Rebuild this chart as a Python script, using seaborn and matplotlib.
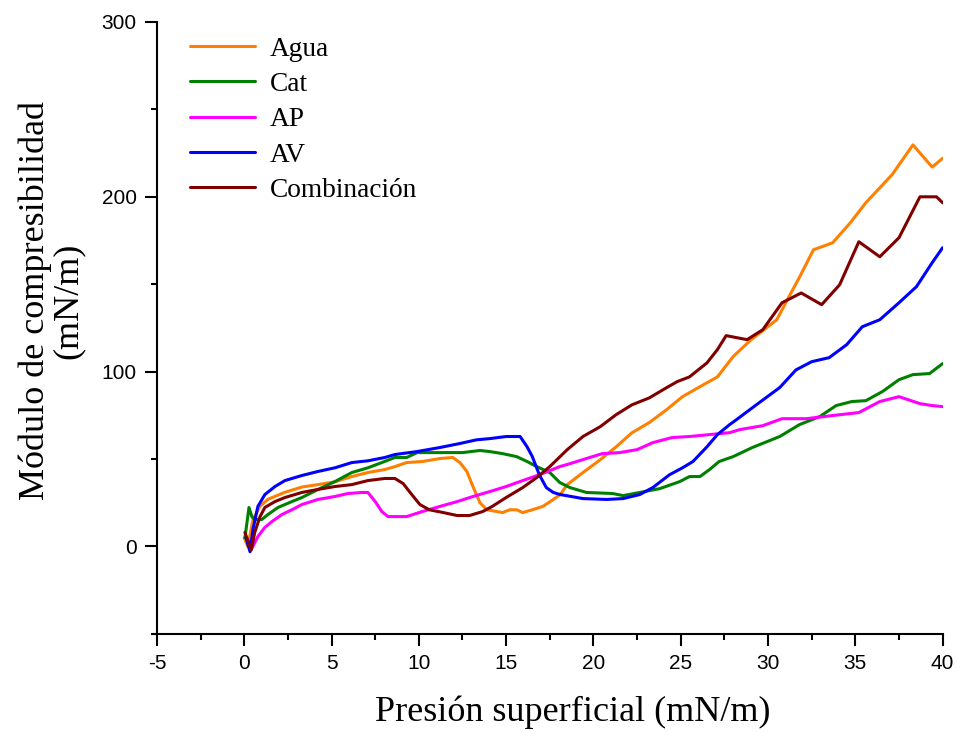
import numpy as np
import pandas as pd
import matplotlib
matplotlib.use("Agg")
import matplotlib.pyplot as plt
import seaborn as sns
from matplotlib.ticker import MultipleLocator

# Presion superficial (mN/m) vs modulo de compresibilidad (mN/m)
agua_x = [0.0, 0.2, 0.5, 0.9, 1.36, 2.33, 3.3, 4.22, 5.19, 6.16, 7.08, 8.05, 8.63, 9.3, 10.2,
          11.2, 11.95, 12.35, 12.75, 13.1, 13.5, 13.9, 14.47, 14.8, 15.2, 15.6, 15.95, 16.5,
          17.1, 17.7, 18.1, 18.5, 19.4, 20.4, 21.3, 22.2, 23.2, 24.2, 25.1, 26.1, 27.1, 28.0,
          29.0, 29.9, 30.5, 31.2, 31.8, 32.6, 33.7, 34.7, 35.6, 37.1, 38.3, 39.4, 40.0]
agua_y = [5, 0, 15.4, 23, 27, 31, 34, 35.4, 37, 40, 42.3, 44, 45.7, 48, 48.6,
          50.3, 50.9, 48, 42.9, 34.3, 25, 21, 20, 19.4, 21, 21, 19.4, 21,
          22.9, 26.9, 29.7, 35.4, 42.3, 49.7, 57, 65, 70.9, 78.3, 85.7, 91.4, 97, 108.6,
          118, 125, 129.7, 142.9, 154, 169.7, 173.7, 185, 196.6, 212.6, 229.7, 217, 222]

cat_x = [0.04, 0.27, 0.44, 0.61, 1.0, 1.36, 1.93, 2.73, 3.3, 4.22, 5.19, 6.16, 7.08, 7.88,
         8.63, 9.3, 9.9, 11.2, 12.5, 13.5, 14.06, 14.8, 15.6, 16.2, 16.75, 17.5, 18.07,
         18.65, 19.6, 21.1, 21.7, 22.65, 23.8, 24.94, 25.5, 26.1, 26.65, 27.2, 28.0, 29.1,
         30.67, 31.8, 32.96, 33.9, 34.8, 35.6, 36.55, 37.5, 38.3, 39.25, 40.0]
cat_y = [5, 22.3, 17, 15.4, 15.4, 18.3, 22.3, 25.7, 28, 32.6, 37.1, 42.3, 45, 48,
         50.9, 50.9, 53.7, 53.7, 53.7, 54.9, 54.3, 53.1, 51.4, 48.6, 45.7, 42.3, 36.6,
         33.7, 30.9, 30.3, 29.1, 30.9, 33.1, 37.1, 40, 40, 44, 48.6, 51.4, 56.6,
         62.9, 69.7, 74.3, 80.6, 82.9, 83.4, 88.6, 95.4, 98.3, 98.9, 104.6]

ap_x = [0.2, 0.44, 0.78, 1.18, 1.59, 2.16, 2.73, 3.3, 4.22, 5.19, 5.94, 6.74, 7.08, 7.5,
        7.88, 8.23, 8.63, 9.3, 10.2, 11.2, 12.2, 13.1, 14.06, 15.0, 15.95, 16.9, 18.07,
        18.5, 19.4, 20.5, 21.5, 22.5, 23.4, 24.5, 25.5, 26.65, 27.8, 28.4, 29.7, 30.8,
        32.2, 33.7, 35.2, 36.4, 37.5, 38.7, 39.4, 40.0]
ap_y = [4, -1, 5.7, 10.9, 14.3, 18.3, 21, 24, 26.9, 28.6, 30.3, 30.9, 30.9, 25.7,
        20, 17.1, 17.1, 17.1, 20, 22.9, 25.7, 28.6, 31.4, 34.3, 37.7, 41, 45.7,
        46.9, 49.7, 53.1, 53.7, 55.4, 59.4, 62.3, 62.9, 64, 65.1, 66.9, 69.1, 73.1,
        73.1, 74.9, 76.6, 82.9, 85.7, 81.7, 80.6, 80]

av_x = [0.1, 0.33, 0.5, 0.78, 1.18, 1.76, 2.33, 3.3, 4.22, 5.19, 6.16, 7.08, 8.05, 8.63,
        9.9, 11.2, 12.35, 13.3, 14.06, 15.0, 15.8, 16.2, 16.5, 16.9, 17.3, 17.7, 18.1,
        19.4, 20.75, 21.7, 22.65, 23.4, 24.35, 25.1, 25.7, 26.5, 27.1, 27.8, 28.2, 29.5,
        30.67, 31.6, 32.5, 33.5, 34.5, 35.4, 36.4, 37.5, 38.5, 39.4, 40.0]
av_y = [5, -3, 9.7, 22.9, 29.7, 34.3, 37.7, 40.6, 42.9, 45, 48, 49, 50.9, 52.6,
        54.3, 56.6, 58.9, 61, 61.7, 62.9, 62.9, 57, 51.4, 41, 33.7, 30.9, 29.7,
        27.4, 26.9, 27.4, 29.7, 33.7, 41, 45, 48.6, 57, 64, 69.7, 72.6, 82.3,
        90.9, 101, 105.7, 108, 115.4, 125.7, 129.7, 139.4, 148.6, 162.3, 170.9]

comb_x = [0.04, 0.4, 0.6, 0.9, 1.18, 1.76, 2.33, 3.3, 4.2, 5.2, 6.16, 7.08, 8.05, 8.63,
          9.1, 9.5, 10.06, 10.6, 11.4, 12.2, 12.9, 13.66, 14.2, 15.0, 15.95, 16.75, 17.5,
          18.5, 19.4, 20.4, 21.3, 22.2, 23.2, 24.2, 24.8, 25.5, 26.5, 27.1, 27.6, 28.8,
          29.7, 30.8, 31.9, 33.07, 34.1, 35.2, 36.4, 37.5, 38.7, 39.65, 40.0]
comb_y = [8, -2, 8, 17, 22.3, 25.7, 28, 30.9, 32.6, 34.3, 35.4, 37.7, 38.9, 38.9,
          36, 30.9, 24, 21, 19.4, 17.7, 17.7, 20, 22.9, 28, 33.7, 39.4, 45.7,
          55.4, 62.9, 68.6, 75.4, 81, 85, 90.9, 94.3, 97, 105, 112.6, 120.6, 118.3,
          124, 139.4, 145, 138.3, 149.7, 174.3, 165.7, 176.6, 200, 200, 196.6]

names = ["Agua", "Cat", "AP", "AV", "Combinación"]
colors = ["#FF8000", "#008000", "#FF00FF", "#0000FF", "#800000"]
series = [(agua_x, agua_y), (cat_x, cat_y), (ap_x, ap_y), (av_x, av_y), (comb_x, comb_y)]

frames = []
for name, (xs, ys) in zip(names, series):
    frames.append(pd.DataFrame({"presion": xs, "modulo": ys, "muestra": name}))
df = pd.concat(frames, ignore_index=True)

sns.set_style("ticks")
plt.rcParams["font.family"] = ["Liberation Sans", "DejaVu Sans"]
plt.rcParams["axes.unicode_minus"] = False
plt.rcParams["text.color"] = "black"
plt.rcParams["axes.labelcolor"] = "black"

fig = plt.figure(figsize=(9.57, 7.32), dpi=100)
ax = fig.add_axes([0.164, 0.134, 0.821, 0.836])

sns.lineplot(data=df, x="presion", y="modulo", hue="muestra", hue_order=names,
             palette=dict(zip(names, colors)), sort=False, estimator=None,
             linewidth=2.2, legend=False, ax=ax)

ax.set_xlim(-5, 40)
ax.set_ylim(-50, 300)
ax.xaxis.set_major_locator(MultipleLocator(5))
ax.xaxis.set_minor_locator(MultipleLocator(2.5))
ax.yaxis.set_major_locator(MultipleLocator(100))
ax.yaxis.set_minor_locator(MultipleLocator(50))
sns.despine(ax=ax)
for sp in ["left", "bottom"]:
    ax.spines[sp].set_linewidth(1.5)
    ax.spines[sp].set_color("black")
ax.tick_params(which="major", direction="out", length=8.5, width=1.5, labelsize=15,
               colors="black", pad=6)
ax.tick_params(which="minor", direction="out", length=4.3, width=1.5, colors="black")

serif = ["Liberation Serif", "DejaVu Serif"]
ax.set_xlabel("Presión superficial (mN/m)", family=serif, fontsize=26, color="black")
ax.xaxis.set_label_coords(0.529, -0.1)
ax.set_ylabel("Módulo de compresibilidad\n(mN/m)", family=serif, fontsize=26,
              linespacing=1.0, color="black")
ax.yaxis.set_label_coords(-0.092, 0.545)

leg = ax.legend(ax.get_lines(), names, loc="upper left", bbox_to_anchor=(0.042, 0.976),
                frameon=False, borderpad=0, borderaxespad=0, handlelength=2.37,
                handletextpad=0.55, labelspacing=0.37,
                prop={"family": serif, "size": 19.7})
for t in leg.get_texts():
    t.set_color("black")

fig.savefig("out.png", dpi=100)
